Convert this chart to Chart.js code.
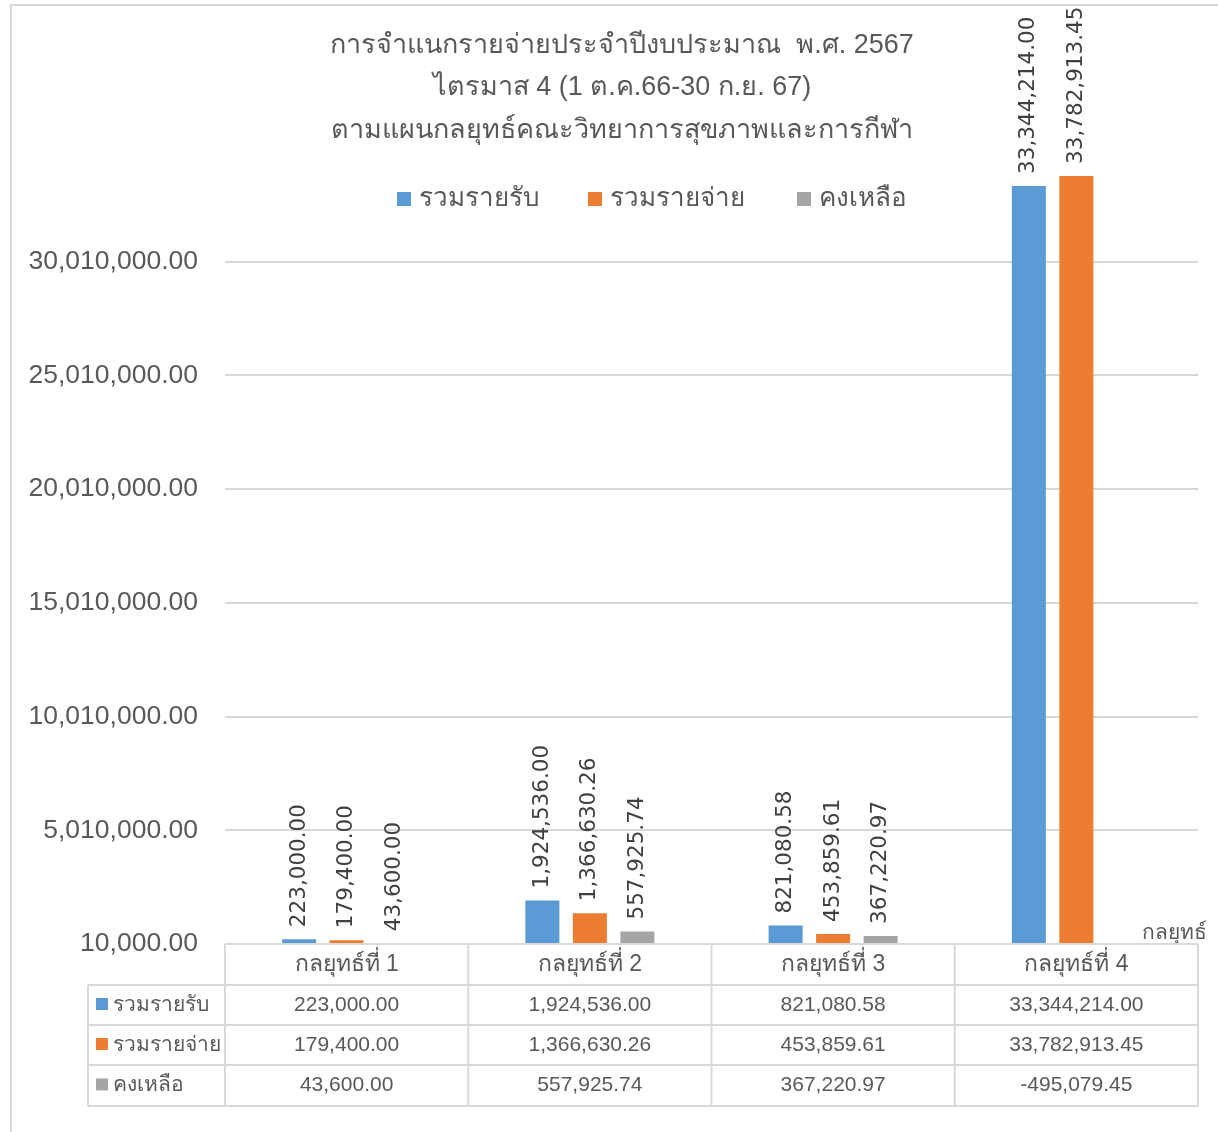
<!DOCTYPE html>
<html>
<head>
<meta charset="utf-8">
<script src="https://cdn.jsdelivr.net/npm/chart.js@4.4.1/dist/chart.umd.min.js"></script>
<style>
  html, body { margin: 0; padding: 0; background: #fff; }
  #wrap { width: 1218px; height: 1132px; position: relative; }
</style>
</head>
<body>
<div id="wrap"><canvas id="budgetChart" width="1218" height="1132"></canvas></div>
<script>
// Chart data
const categories = ['กลยุทธ์ที่ 1', 'กลยุทธ์ที่ 2', 'กลยุทธ์ที่ 3', 'กลยุทธ์ที่ 4'];
const seriesNames = ['รวมรายรับ', 'รวมรายจ่าย', 'คงเหลือ'];
const income = [223000.00, 1924536.00, 821080.58, 33344214.00];
const expense = [179400.00, 1366630.26, 453859.61, 33782913.45];
const balance = [43600.00, 557925.74, 367220.97, -495079.45];
const titleLines = [
  'การจำแนกรายจ่ายประจำปีงบประมาณ  พ.ศ. 2567',
  'ไตรมาส 4 (1 ต.ค.66-30 ก.ย. 67)',
  'ตามแผนกลยุทธ์คณะวิทยาการสุขภาพและการกีฬา'
];
const axisMin = 10000;
const axisMax = 35010000;
const axisStep = 5000000;

const seriesColors = ['#5B9BD5', '#ED7D31', '#A5A5A5'];
const textColor = '#595959';
const lineColor = '#D9D9D9';
const numFont = "'Liberation Sans Narrow', 'Liberation Sans', sans-serif";
const labelFont = "'DejaVu Sans', sans-serif";

const fmt = v => v.toLocaleString('en-US', { minimumFractionDigits: 2, maximumFractionDigits: 2 });

// frame, title and legend drawn over the canvas
const decorPlugin = {
  id: 'decor',
  beforeDraw(chart) {
    const ctx = chart.ctx;
    ctx.save();
    ctx.fillStyle = '#fff';
    ctx.fillRect(0, 0, chart.width, chart.height);
    ctx.strokeStyle = lineColor;
    ctx.lineWidth = 2;
    ctx.beginPath();
    ctx.moveTo(11, chart.height);
    ctx.lineTo(11, 5);
    ctx.lineTo(chart.width, 5);
    ctx.stroke();
    ctx.restore();
  },
  afterDraw(chart) {
    const ctx = chart.ctx;
    ctx.save();
    ctx.fillStyle = textColor;
    ctx.textAlign = 'center';
    ctx.textBaseline = 'middle';
    ctx.font = '27px ' + numFont;
    const tY = [46, 88, 131];
    titleLines.forEach((t, i) => ctx.fillText(t, 622, tY[i]));

    // legend
    const legX = [397, 588, 797];
    ctx.textAlign = 'left';
    ctx.font = '26px ' + numFont;
    chart.data.datasets.forEach((ds, i) => {
      ctx.fillStyle = ds.backgroundColor;
      ctx.fillRect(legX[i], 192, 14, 14);
      ctx.fillStyle = textColor;
      ctx.fillText(ds.label, legX[i] + 22, 199);
    });

    // axis title at the right end
    ctx.font = '21px ' + numFont;
    ctx.textAlign = 'right';
    ctx.fillText('กลยุทธ์', 1207, 933);
    ctx.restore();
  }
};

// vertical value labels above the bars
const barLabelPlugin = {
  id: 'barLabels',
  afterDatasetsDraw(chart) {
    const ctx = chart.ctx;
    ctx.save();
    ctx.fillStyle = '#404040';
    ctx.font = '21.5px ' + labelFont;
    ctx.textAlign = 'left';
    ctx.textBaseline = 'middle';
    chart.data.datasets.forEach((ds, di) => {
      const meta = chart.getDatasetMeta(di);
      meta.data.forEach((bar, i) => {
        const v = ds.data[i];
        if (v < axisMin) return;
        ctx.save();
        ctx.translate(bar.x, bar.y - 12);
        ctx.rotate(-Math.PI / 2);
        ctx.fillText(fmt(v), 0, 0);
        ctx.restore();
      });
    });
    ctx.restore();
  }
};

// data table under the plot
const dataTablePlugin = {
  id: 'dataTable',
  afterDraw(chart) {
    const ctx = chart.ctx;
    const x = chart.scales.x;
    const area = chart.chartArea;
    const colW = (area.right - area.left) / categories.length;
    const rows = [area.bottom, 985, 1025, 1065, 1106];
    const keyLeft = 88;
    ctx.save();
    ctx.strokeStyle = lineColor;
    ctx.lineWidth = 2;
    ctx.beginPath();
    // horizontal lines
    ctx.moveTo(area.left, rows[0]);
    ctx.lineTo(area.right, rows[0]);
    for (let r = 1; r < rows.length; r++) {
      ctx.moveTo(keyLeft, rows[r]);
      ctx.lineTo(area.right, rows[r]);
    }
    // vertical lines
    for (let c = 0; c <= categories.length; c++) {
      const cx = area.left + c * colW;
      ctx.moveTo(cx, rows[0]);
      ctx.lineTo(cx, rows[rows.length - 1]);
    }
    ctx.moveTo(keyLeft, rows[1]);
    ctx.lineTo(keyLeft, rows[rows.length - 1]);
    ctx.stroke();

    ctx.fillStyle = textColor;
    ctx.textAlign = 'center';
    ctx.textBaseline = 'middle';
    ctx.font = '23px ' + numFont;
    categories.forEach((c, i) => {
      ctx.fillText(c, x.getPixelForValue(i), (rows[0] + rows[1]) / 2);
    });
    const seriesData = [income, expense, balance];
    seriesData.forEach((arr, r) => {
      const cy = (rows[r + 1] + rows[r + 2]) / 2;
      ctx.font = '21px ' + numFont;
      ctx.textAlign = 'center';
      ctx.fillStyle = textColor;
      arr.forEach((v, i) => ctx.fillText(fmt(v), x.getPixelForValue(i), cy));
      ctx.fillStyle = seriesColors[r];
      ctx.fillRect(96, cy - 7, 12, 12);
      ctx.fillStyle = textColor;
      ctx.textAlign = 'left';
      ctx.font = '21px ' + numFont;
      ctx.fillText(seriesNames[r], 113, cy);
    });
    ctx.restore();
  }
};

new Chart(document.getElementById('budgetChart'), {
  type: 'bar',
  data: {
    labels: categories,
    datasets: [
      { label: seriesNames[0], data: income, backgroundColor: seriesColors[0] },
      { label: seriesNames[1], data: expense, backgroundColor: seriesColors[1] },
      { label: seriesNames[2], data: balance, backgroundColor: seriesColors[2] }
    ]
  },
  options: {
    responsive: false,
    animation: false,
    devicePixelRatio: 1,
    layout: { padding: { top: 148, right: 20, bottom: 188, left: 0 } },
    datasets: {
      bar: { barPercentage: 0.716, categoryPercentage: 0.586 }
    },
    plugins: {
      legend: { display: false },
      title: { display: false },
      tooltip: { enabled: false }
    },
    scales: {
      x: { display: false },
      y: {
        min: axisMin,
        max: axisMax,
        afterFit: s => { s.width = 225; },
        border: { display: false },
        grid: {
          drawTicks: false,
          lineWidth: 2,
          color: c => (c.tick && c.tick.value >= axisMax) ? 'rgba(0,0,0,0)' : lineColor
        },
        ticks: {
          stepSize: axisStep,
          padding: 27,
          color: textColor,
          font: { family: numFont, size: 26.5 },
          callback: v => (v >= axisMax ? '' : fmt(v))
        }
      }
    }
  },
  plugins: [decorPlugin, barLabelPlugin, dataTablePlugin]
});
</script>
</body>
</html>
